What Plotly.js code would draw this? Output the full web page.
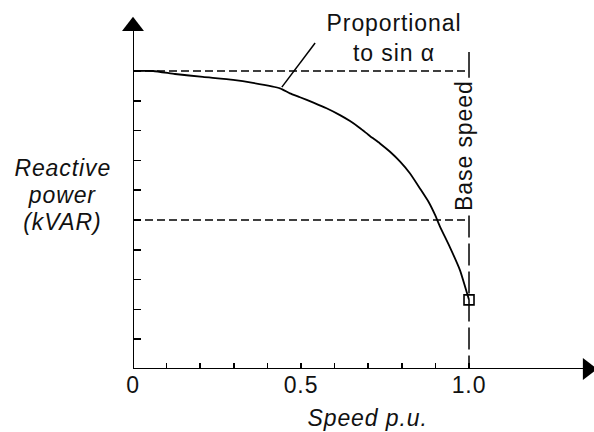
<!DOCTYPE html>
<html>
<head>
<meta charset="utf-8">
<script src="https://cdn.plot.ly/plotly-3.0.1.min.js"></script>
<style>
html,body{margin:0;padding:0;background:#fff;}
#chart{width:594px;height:432px;}
#chart svg text{letter-spacing:0.9px;}
</style>
</head>
<body>
<div id="chart"></div>
<script>
// Curve: reactive power vs speed
const speed = [0, 0.06, 0.125, 0.208, 0.298, 0.357, 0.4375, 0.467, 0.497, 0.537, 0.576, 0.616, 0.646, 0.676, 0.705, 0.735, 0.765, 0.795, 0.824, 0.854, 0.879, 0.899, 0.914, 0.943, 0.973, 0.994, 1.0];
const reactive = [10.0, 10.0, 9.90, 9.80, 9.70, 9.60, 9.42, 9.25, 9.12, 8.94, 8.75, 8.52, 8.32, 8.08, 7.82, 7.57, 7.29, 6.96, 6.57, 6.06, 5.62, 5.17, 4.77, 4.09, 3.32, 2.55, 2.32];

const xTickVals = [0, 0.1, 0.2, 0.3, 0.4, 0.5, 0.6, 0.7, 0.8, 0.9, 1.0];
const xTickText = ['0', '', '', '', '', '0.5', '', '', '', '', '1.0'];
const yTickVals = [1, 2, 3, 4, 5, 6, 7, 8, 9, 10];
const yLabelLines = ['Reactive', 'power', '(kVAR)'];

const ratedLevel = 10;     // upper dashed reference
const halfLevel = 5;       // lower dashed reference
const baseSpeed = 1.0;     // base speed line

const xRange = [0, 1.372];
const yRange = [0, 12.383];
const yArrow = 11.5;
const xArrow = 1.353;

const FONT = 'Liberation Sans, Arial, Helvetica, sans-serif';
const TXT = {family: FONT, size: 23, color: '#111'};

const traces = [
  {x: speed, y: reactive, mode: 'lines', line: {color: '#000', width: 1.8, shape: 'spline', smoothing: 0.5}, cliponaxis: false},
  {x: [speed[speed.length-1]], y: [reactive[reactive.length-1]], mode: 'markers',
   marker: {symbol: 'square-open', size: 10, color: '#000', line: {width: 1.6, color: '#000'}}, cliponaxis: false},
  {x: [0], y: [yArrow], mode: 'markers', marker: {symbol: 'triangle-up', size: 19, color: '#000'}, cliponaxis: false},
  {x: [xArrow], y: [0], mode: 'markers', marker: {symbol: 'triangle-right', size: 19, color: '#000'}, cliponaxis: false}
];

const yLabelAnn = yLabelLines.map((t, i) => ({
  xref: 'paper', yref: 'paper', x: -0.154, y: 0.4715 + (1 - i) * 27 / 369,
  xanchor: 'center', yanchor: 'middle', text: '<i>' + t + '</i>', showarrow: false, font: TXT
}));

const layout = {
  width: 594, height: 432,
  margin: {l: 133, r: 0, t: 0, b: 63},
  paper_bgcolor: '#fff', plot_bgcolor: '#fff',
  showlegend: false,
  font: TXT,
  xaxis: {
    range: xRange, showgrid: false, zeroline: false, showline: false,
    tickmode: 'array', tickvals: xTickVals, ticktext: xTickText,
    ticks: 'inside', ticklen: 6, tickwidth: 1.6, tickcolor: '#000',
    tickfont: TXT, fixedrange: true
  },
  yaxis: {
    range: yRange, showgrid: false, zeroline: false, showline: false,
    tickmode: 'array', tickvals: yTickVals, showticklabels: false,
    ticks: 'inside', ticklen: 8, tickwidth: 1.6, tickcolor: '#000', fixedrange: true
  },
  shapes: [
    {type: 'line', xref: 'x', yref: 'y', x0: 0, x1: 0, y0: 0, y1: yArrow, line: {color: '#000', width: 2}},
    {type: 'line', xref: 'x', yref: 'y', x0: 0, x1: xArrow, y0: 0, y1: 0, line: {color: '#000', width: 2}},
    {type: 'line', xref: 'x', yref: 'y', x0: 0, x1: baseSpeed, y0: ratedLevel, y1: ratedLevel, line: {color: '#000', width: 1.5, dash: '8px,4px'}},
    {type: 'line', xref: 'x', yref: 'y', x0: 0, x1: baseSpeed, y0: halfLevel, y1: halfLevel, line: {color: '#000', width: 1.5, dash: '8px,4px'}},
    {type: 'line', xref: 'x', yref: 'y', x0: baseSpeed, x1: baseSpeed, y0: 10.64, y1: 9.77, line: {color: '#000', width: 1.5}},
    {type: 'line', xref: 'x', yref: 'y', x0: baseSpeed, x1: baseSpeed, y0: 5.15, y1: 0, line: {color: '#000', width: 1.5, dash: '22px,6px'}},
    {type: 'line', xref: 'x', yref: 'y', x0: 0.542, x1: 0.443, y0: 10.94, y1: 9.46, line: {color: '#000', width: 1.5}}
  ],
  annotations: yLabelAnn.concat([
    {xref: 'paper', yref: 'paper', x: 0.5076, y: -0.133, xanchor: 'center', yanchor: 'middle',
     text: '<i>Speed p.u.</i>', showarrow: false, font: TXT},
    {xref: 'paper', yref: 'paper', x: 0.566, y: 0.897, xanchor: 'center', yanchor: 'middle',
     text: 'Proportional<br>to sin α', showarrow: false, font: TXT},
    {xref: 'x', yref: 'y', x: baseSpeed, y: 7.47, xshift: -5, xanchor: 'center', yanchor: 'middle', textangle: -90,
     text: 'Base speed', showarrow: false, font: TXT}
  ])
};

Plotly.newPlot('chart', traces, layout, {staticPlot: true, displayModeBar: false});
</script>
</body>
</html>
